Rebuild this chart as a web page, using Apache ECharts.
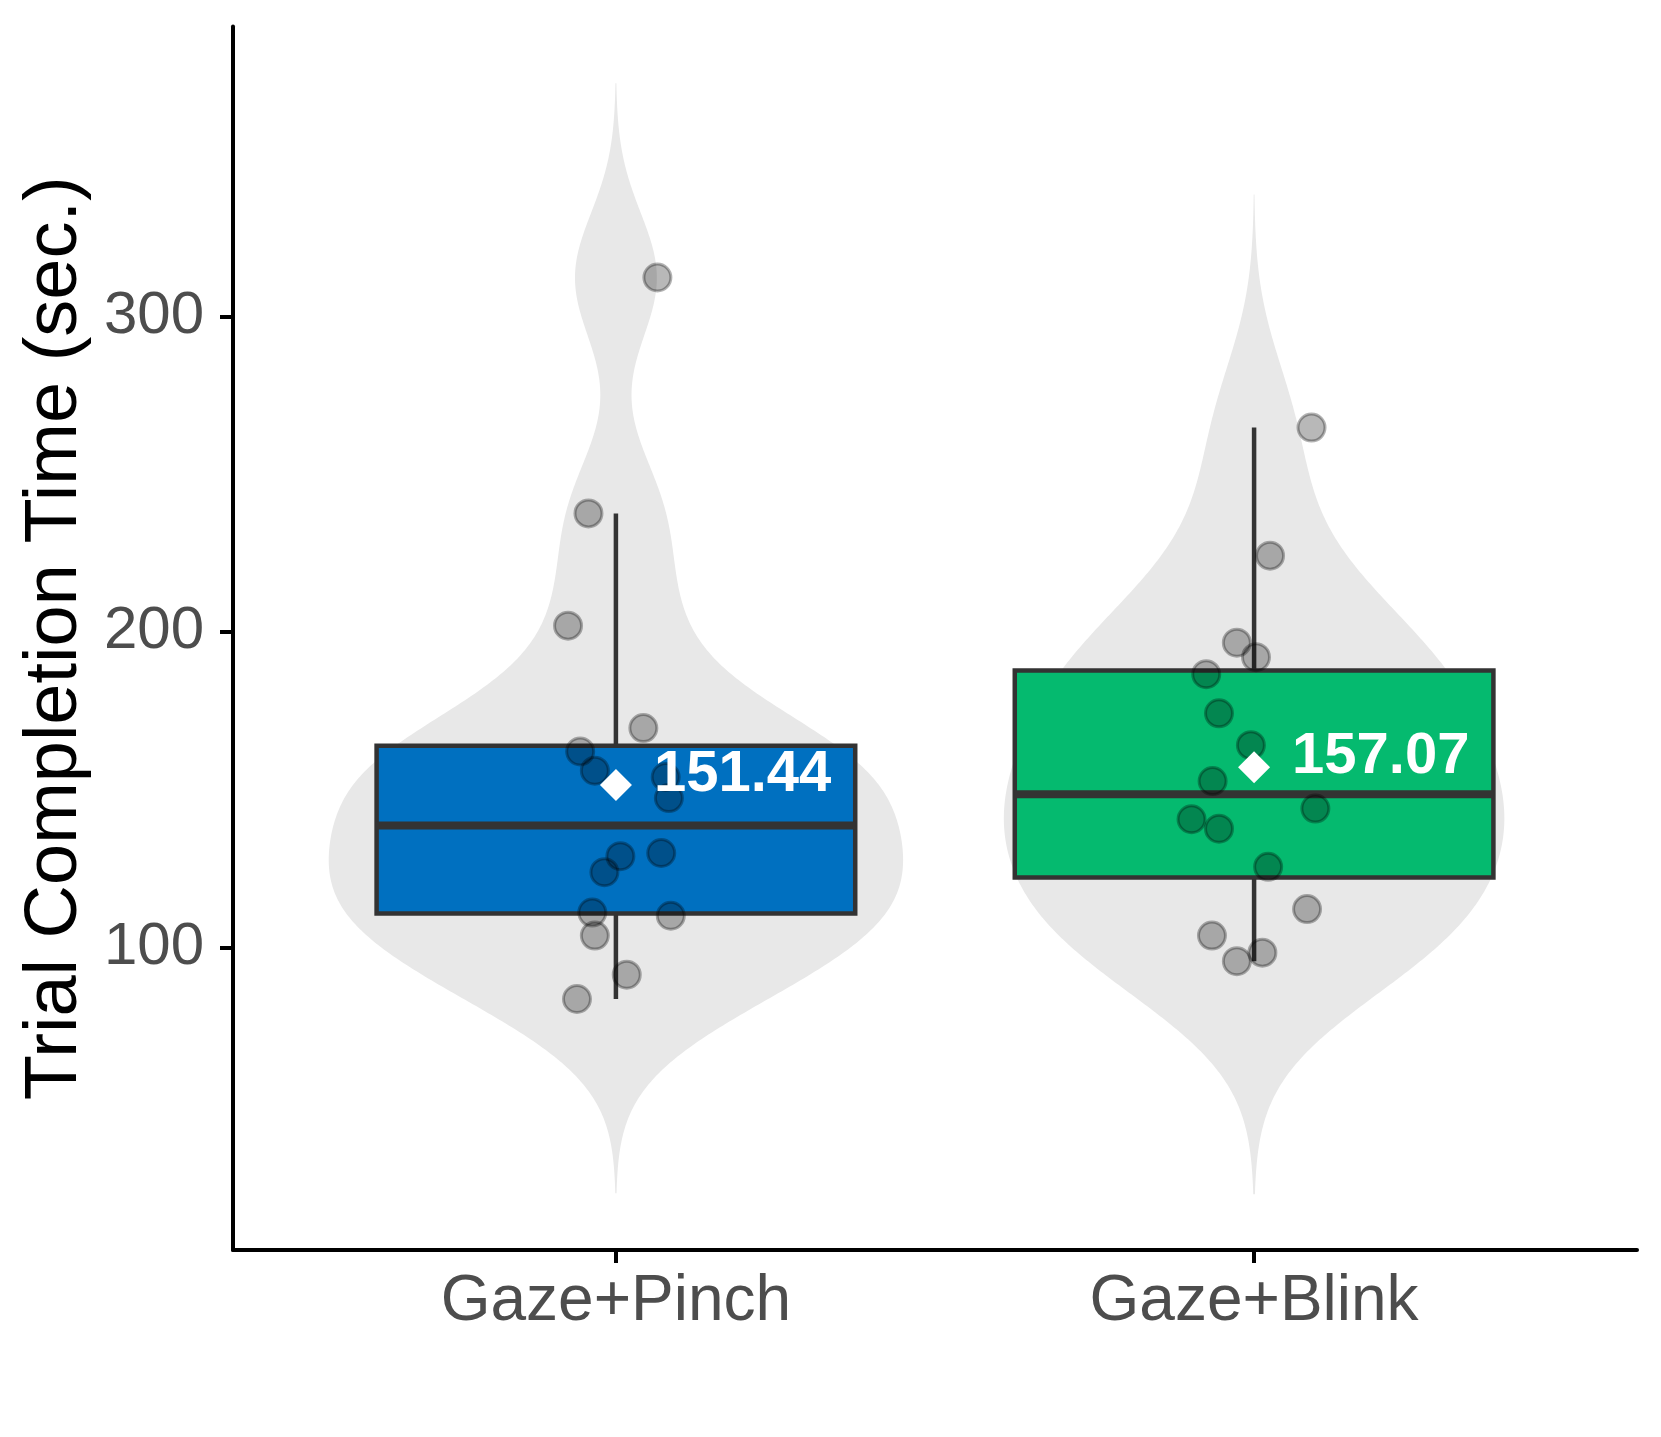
<!DOCTYPE html>
<html><head><meta charset="utf-8">
<script src="https://cdn.jsdelivr.net/npm/echarts@6/dist/echarts.min.js"></script>
<style>html,body{margin:0;padding:0;background:#fff}#c{width:1661px;height:1437px}</style>
</head><body><div id="c"></div>
<script>
// ---- data ----
const categories = ['Gaze+Pinch', 'Gaze+Blink'];
const pinchTimes  = [312.4, 237.6, 202.0, 169.5, 162.1, 156.0, 154.0, 147.3, 128.9, 129.9, 123.8, 111.0, 110.0, 103.7, 91.3, 83.6];
const pinchJitter = [0.065, -0.043, -0.075, 0.043, -0.056, -0.033, 0.078, 0.083, 0.007, 0.071, -0.018, -0.037, 0.086, -0.033, 0.017, -0.061];
const blinkTimes  = [264.8, 224.2, 196.6, 192.0, 186.6, 174.2, 164.1, 152.7, 140.6, 137.6, 144.0, 125.5, 112.1, 103.7, 98.3, 95.6];
const blinkJitter = [0.090, 0.025, -0.027, 0.003, -0.075, -0.055, -0.005, -0.065, -0.098, -0.055, 0.096, 0.022, 0.083, -0.066, 0.013, -0.027];
const boxQ1 = [110.7, 122.1];
const boxMedian = [138.6, 148.5];
const boxQ3 = [163.9, 187.8];
const whiskerLow = [83.6, 95.6];
const whiskerHigh = [237.6, 264.8];
const means = [151.44, 157.07];
const yTickValues = [100, 200, 300];
const xTickValues = [1, 2];
const boxColors = ['#0070C0', '#05BA6F'];

// ---- kernel density (R density(), bw.nrd0, cut = 3) for the violins ----
function quantile7(arr, p) {
  const s = [...arr].sort((a, b) => a - b);
  const h = (s.length - 1) * p, lo = Math.floor(h);
  return s[lo] + (h - lo) * (s[Math.min(lo + 1, s.length - 1)] - s[lo]);
}
function bwNrd0(x) {
  const n = x.length, m = x.reduce((a, b) => a + b, 0) / n;
  const sd = Math.sqrt(x.reduce((a, b) => a + (b - m) * (b - m), 0) / (n - 1));
  const iqr = quantile7(x, 0.75) - quantile7(x, 0.25);
  return 0.9 * Math.min(sd, iqr / 1.34) * Math.pow(n, -0.2);
}
function kde(x) {
  const bw = bwNrd0(x);
  const from = Math.min(...x) - 3 * bw, to = Math.max(...x) + 3 * bw, N = 512, out = [];
  for (let i = 0; i < N; i++) {
    const y = from + (to - from) * i / (N - 1);
    let d = 0;
    for (const v of x) { const z = (y - v) / bw; d += Math.exp(-0.5 * z * z); }
    out.push([y, d / (x.length * bw * Math.sqrt(2 * Math.PI))]);
  }
  return out;
}
const violins = [kde(pinchTimes), kde(blinkTimes)];
const dMax = Math.max(...violins.map(v => Math.max(...v.map(p => p[1]))));

const pointData = [];
pinchTimes.forEach((v, i) => pointData.push([1 + pinchJitter[i], v]));
blinkTimes.forEach((v, i) => pointData.push([2 + blinkJitter[i], v]));

const boxData = categories.map((c, i) => [i + 1, boxQ1[i], boxMedian[i], boxQ3[i], whiskerLow[i], whiskerHigh[i]]);
const meanData = means.map((m, i) => [i + 1, m]);

const FONT = '"Liberation Sans", Arial, Helvetica, sans-serif';
const chart = echarts.init(document.getElementById('c'), null, {renderer: 'canvas'});
chart.setOption({
  backgroundColor: '#ffffff',
  animation: false,
  grid: {left: 233, right: 24, top: 26.5, bottom: 187},
  xAxis: {
    type: 'value', min: 0.4, max: 2.6,
    splitLine: {show: false},
    axisLine: {show: true, lineStyle: {color: '#000', width: 4}},
    axisTick: {show: true, customValues: xTickValues, length: 13, lineStyle: {color: '#000', width: 4}},
    axisLabel: {customValues: xTickValues, formatter: v => categories[Math.round(v) - 1],
      fontSize: 64, color: '#4D4D4D', fontFamily: FONT, margin: 20}
  },
  yAxis: {
    type: 'value', min: 4, max: 392,
    name: 'Trial Completion Time (sec.)', nameLocation: 'middle', nameGap: 140,
    nameTextStyle: {fontSize: 74, color: '#000', fontFamily: FONT},
    splitLine: {show: false},
    axisLine: {show: true, lineStyle: {color: '#000', width: 4}},
    axisTick: {show: true, customValues: yTickValues, length: 13, lineStyle: {color: '#000', width: 4}},
    axisLabel: {customValues: yTickValues, fontSize: 60, color: '#4D4D4D', fontFamily: FONT, margin: 29}
  },
  series: [
    {
      type: 'custom', z: 1, silent: true,
      data: [[1], [2]],
      renderItem(params, api) {
        const g = api.value(0), dens = violins[params.dataIndex], pts = [];
        dens.forEach(p => pts.push(api.coord([g - 0.45 * p[1] / dMax, p[0]])));
        for (let i = dens.length - 1; i >= 0; i--) pts.push(api.coord([g + 0.45 * dens[i][1] / dMax, dens[i][0]]));
        return {type: 'polygon', shape: {points: pts}, style: {fill: '#E8E8E8'}};
      }
    },
    {
      type: 'custom', z: 2, silent: true,
      data: boxData,
      renderItem(params, api) {
        const x = api.value(0), q1 = api.value(1), med = api.value(2), q3 = api.value(3), lo = api.value(4), hi = api.value(5);
        const tl = api.coord([x - 0.375, q3]), br = api.coord([x + 0.375, q1]);
        const top = api.coord([x, hi]), bot = api.coord([x, lo]);
        const mL = api.coord([x - 0.375, med]), mR = api.coord([x + 0.375, med]);
        const stroke = '#333333';
        return {type: 'group', children: [
          {type: 'line', shape: {x1: top[0], y1: top[1], x2: bot[0], y2: bot[1]}, style: {stroke, lineWidth: 4.5}},
          {type: 'rect', shape: {x: tl[0], y: tl[1], width: br[0] - tl[0], height: br[1] - tl[1]},
            style: {fill: boxColors[params.dataIndex], stroke, lineWidth: 4.5}},
          {type: 'line', shape: {x1: mL[0], y1: mL[1], x2: mR[0], y2: mR[1]}, style: {stroke, lineWidth: 8}}
        ]};
      }
    },
    {
      type: 'scatter', z: 3, silent: true,
      data: pointData, symbol: 'circle', symbolSize: 27,
      itemStyle: {color: 'rgba(0,0,0,0.28)', borderColor: 'rgba(0,0,0,0.3)', borderWidth: 3, opacity: 1}
    },
    {
      type: 'scatter', z: 4, silent: true,
      data: meanData, symbol: 'diamond', symbolSize: 32,
      itemStyle: {color: '#ffffff', opacity: 1},
      label: {show: true, position: 'right', distance: 22, offset: [0, -10],
        formatter: p => p.value[1].toFixed(2),
        fontSize: 58, fontWeight: 'bold', color: '#ffffff', opacity: 1, fontFamily: FONT}
    }
  ]
});
</script>
</body></html>
